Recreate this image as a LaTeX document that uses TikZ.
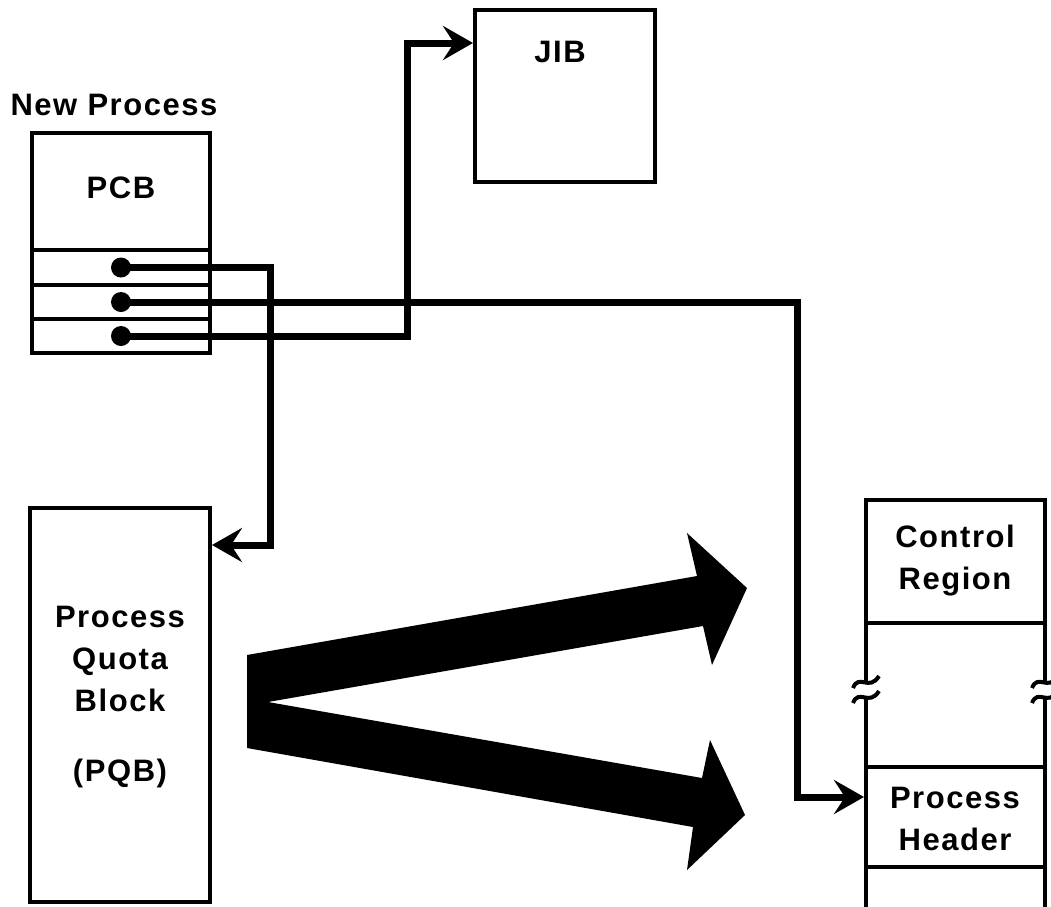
\documentclass[tikz,border=0pt]{standalone}
\usepackage{fontspec}
\setmainfont{Liberation Sans}[LetterSpace=5]
\usetikzlibrary{arrows.meta}
\begin{document}
\begin{tikzpicture}[x=1pt,y=-1pt,
  box/.style={draw,line width=4pt,inner sep=0pt},
  dot/.style={circle,fill,inner sep=0pt,minimum size=20pt},
  ptr/.style={line width=7pt,-{Stealth[length=30pt,width=34pt,inset=11pt]}},
  lbl/.style={font=\fontsize{31}{42}\selectfont\bfseries,align=center}]
 \useasboundingbox (0,0) rectangle (1051,906);
 \node[lbl,anchor=base west] (np) at (7,115) {New Process};
 \node[box,minimum width=178pt,minimum height=117pt] (pcb) at (121,191.5) {};
 \node[lbl] (pcbt) at (121,188) {PCB};
 \foreach \i/\y in {1/267.5,2/302,3/336}{
   \node[box,minimum width=178pt,minimum height=34.5pt] (r\i) at (121,\y) {};
   \node[dot] (d\i) at (r\i.center) {};}
 \node[box,minimum width=180pt,minimum height=172pt] (jib) at (565,96) {};
 \node[lbl] (jibt) at (560,52) {JIB};
 \node[box,minimum width=180pt,minimum height=394pt] (pqb) at (120,705) {};
 \node[lbl] (pqbt) at (120,697) {Process\\Quota\\Block\\[28pt](PQB)};
 \node[box,minimum width=179pt,minimum height=123pt] (ctl) at (955.5,561.5) {};
 \node[box,minimum width=179pt,minimum height=144pt] (mid) at (955.5,695) {};
 \node[box,minimum width=179pt,minimum height=100pt] (hdr) at (955.5,817) {};
 \node[box,minimum width=179pt,minimum height=60pt] (bot) at (955.5,897) {};
 \node[lbl] (ctlt) at (955,561) {Control\\Region};
 \node[lbl] (hdrt) at (955,819) {Process\\Header};
 \foreach \x in {866,1045}{
   \fill[white] (\x-5,684) rectangle (\x+5,696);
   \foreach \y in {682,697}
     \draw[line width=4pt] (\x-13,\y+6) .. controls (\x-7,\y-9) and (\x+3,\y+10) .. (\x+13,\y-6);}
 \coordinate (c1) at (270,545);
 \coordinate (c2) at (797,797);
 \coordinate (c3) at (407,43);
 \draw[ptr] (d1.center) -| (c1) -- (c1 -| pqb.east);
 \draw[ptr] (d2.center) -| (c2) -- (c2 -| hdr.west);
 \draw[ptr] (d3.center) -| (c3) -- (c3 -| jib.west);
 \fill (247,655) -- (697,576) -- (687,533) -- (747,588) -- (712,665) -- (703,626)
   -- (268,702) -- (702,778) -- (710,740) -- (745,815) -- (687,870) -- (693,827)
   -- (247,748) -- cycle;
\end{tikzpicture}
\end{document}
